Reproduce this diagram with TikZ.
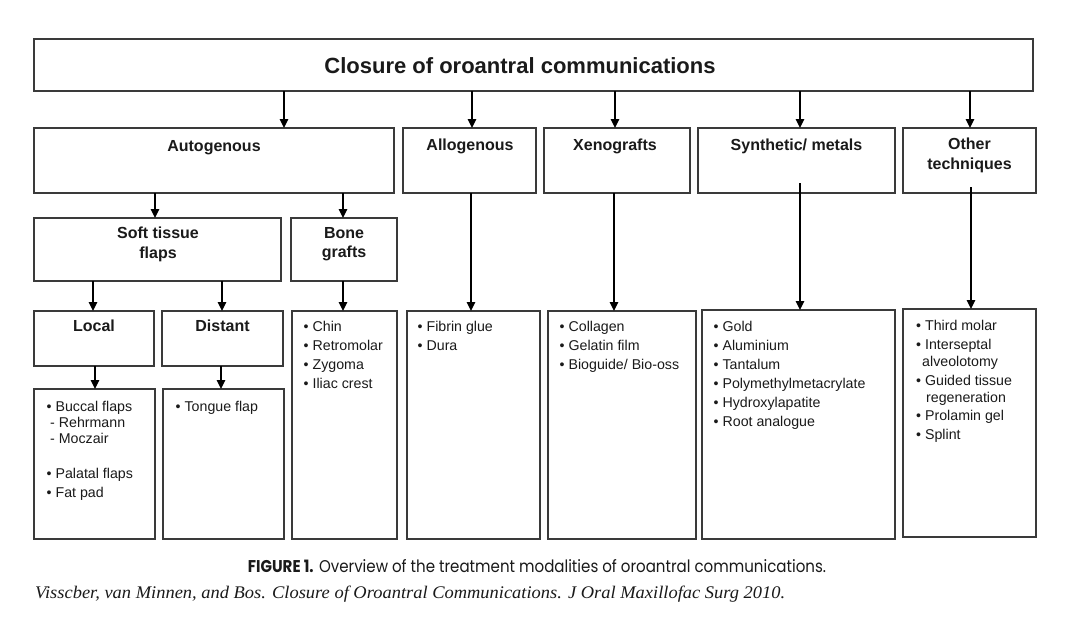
\documentclass[tikz,border=0pt]{standalone}
\usepackage{graphicx}
\usepackage{fontspec}
\setmainfont{Liberation Sans}
\newfontfamily\capfont{Poppins}
\newfontfamily\citefont{Liberation Serif}
\usetikzlibrary{arrows.meta,calc}
\definecolor{boxgray}{HTML}{3A3A3A}
\definecolor{ink}{HTML}{1A1A1A}
\begin{document}
\begin{tikzpicture}[x=1pt,y=-1pt,
  box/.style={draw=boxgray, line width=1.3pt, anchor=north west, inner sep=0pt, outer sep=0pt},
  lbl/.style={font=\fontsize{16}{19.5}\selectfont\bfseries, text=ink, align=center, anchor=north, inner sep=0pt},
  ttl/.style={font=\fontsize{22}{26}\selectfont\bfseries, text=ink, anchor=north, inner sep=0pt},
  lst/.style={font=\fontsize{14.2}{19}\selectfont, text=ink, align=left, anchor=north west, inner sep=0pt},
  arr/.style={draw=black, line width=1.3pt, -{Triangle[length=9pt,width=8.5pt]}}]
\useasboundingbox[fill=white] (0,0) rectangle (1073,629);

% boxes
\node[box, minimum width=999pt, minimum height=52pt] (top) at (34,39) {};
\node[box, minimum width=360pt, minimum height=65pt] (auto) at (34,128) {};
\node[box, minimum width=133pt, minimum height=65pt] (allo) at (403,128) {};
\node[box, minimum width=146pt, minimum height=65pt] (xeno) at (544,128) {};
\node[box, minimum width=197pt, minimum height=65pt] (synth) at (698,128) {};
\node[box, minimum width=133pt, minimum height=65pt] (other) at (903,128) {};
\node[box, minimum width=247pt, minimum height=63pt] (soft) at (34,218) {};
\node[box, minimum width=106pt, minimum height=63pt] (bone) at (291,218) {};
\node[box, minimum width=120pt, minimum height=55pt] (local) at (34,311) {};
\node[box, minimum width=121pt, minimum height=55pt] (dist) at (162,311) {};
\node[box, minimum width=121pt, minimum height=150pt] (locl) at (34,389) {};
\node[box, minimum width=121pt, minimum height=150pt] (distl) at (163,389) {};
\node[box, minimum width=105pt, minimum height=228pt] (bonel) at (292,311) {};
\node[box, minimum width=133pt, minimum height=228pt] (allol) at (407,311) {};
\node[box, minimum width=148pt, minimum height=228pt] (xenol) at (548,311) {};
\node[box, minimum width=193pt, minimum height=229pt] (synl) at (702,310) {};
\node[box, minimum width=133pt, minimum height=228pt] (othl) at (903,309) {};

% labels
\node[ttl] (ttop) at ($(top.north)+(-13.5,18)$) {Closure of oroantral communications};
\node[lbl] (tauto) at ($(auto.north)+(0,12)$) {Autogenous};
\node[lbl] (tallo) at ($(allo.north)+(0.5,11)$) {Allogenous};
\node[lbl] (txeno) at ($(xeno.north)+(-2,11)$) {Xenografts};
\node[lbl] (tsynth) at ($(synth.north)+(0,11)$) {Synthetic/ metals};
\node[lbl] (tother) at ($(other.north)+(0,10)$) {Other\\techniques};
\node[lbl] (tsoft) at ($(soft.north)+(0.5,9)$) {Soft tissue\\flaps};
\node[lbl] (tbone) at ($(bone.north)+(0,9)$) {Bone\\grafts};
\node[lbl] (tlocal) at ($(local.north)+(0,9)$) {Local};
\node[lbl] (tdist) at ($(dist.north)+(0,9)$) {Distant};

% lists
\node[lst] (llocl) at ($(locl.north west)+(12.5,12.5)$)
  {• Buccal flaps\\[-3pt]\hspace*{3.5pt}- Rehrmann\\[-3pt]\hspace*{3.5pt}- Moczair\\[16pt]• Palatal flaps\\• Fat pad};
\node[lst] (ldistl) at ($(distl.north west)+(12.5,12.5)$) {• Tongue flap};
\node[lst] (lbonel) at ($(bonel.north west)+(11.5,10.5)$) {• Chin\\• Retromolar\\• Zygoma\\• Iliac crest};
\node[lst] (lallol) at ($(allol.north west)+(10.5,10.5)$) {• Fibrin glue\\• Dura};
\node[lst] (lxenol) at ($(xenol.north west)+(11.5,10.5)$) {• Collagen\\• Gelatin film\\• Bioguide/ Bio-oss};
\node[lst] (lsynl) at ($(synl.north west)+(11.5,11.5)$)
  {• Gold\\• Aluminium\\• Tantalum\\• Polymethylmetacrylate\\• Hydroxylapatite\\• Root analogue};
\node[lst] (lothl) at ($(othl.north west)+(13,11.5)$)
  {• Third molar\\• Interseptal\\[-2pt]\hspace*{6pt}alveolotomy\\• Guided tissue\\[-2pt]\hspace*{10pt}regeneration\\[-1pt]• Prolamin gel\\• Splint};

% arrows
\draw[arr] (top.south -| 284,0) -- (auto.north -| 284,0);
\draw[arr] (top.south -| 472,0) -- (allo.north -| 472,0);
\draw[arr] (top.south -| 615,0) -- (xeno.north -| 615,0);
\draw[arr] (top.south -| 800,0) -- (synth.north -| 800,0);
\draw[arr] (top.south -| 970,0) -- (other.north -| 970,0);
\draw[arr] (auto.south -| 155,0) -- (soft.north -| 155,0);
\draw[arr] (auto.south -| 343,0) -- (bone.north -| 343,0);
\draw[arr] (soft.south -| 93,0) -- (local.north -| 93,0);
\draw[arr] (soft.south -| 222,0) -- (dist.north -| 222,0);
\draw[arr] (local.south -| 95,0) -- (locl.north -| 95,0);
\draw[arr] (dist.south -| 221,0) -- (distl.north -| 221,0);
\draw[arr] (bone.south -| 343,0) -- (bonel.north -| 343,0);
\draw[arr] (allo.south -| 471,0) -- (allol.north -| 471,0);
\draw[arr] (xeno.south -| 614,0) -- (xenol.north -| 614,0);
\draw[arr] ($(synth.south -| 800,0)+(0,-10)$) -- (synl.north -| 800,0);
\draw[arr] ($(other.south -| 971,0)+(0,-6)$) -- (othl.north -| 971,0);

% caption
\node[anchor=base, inner sep=0pt, text=ink] (cap) at (537,572)
  {\resizebox{578pt}{13pt}{\capfont\textbf{FIGURE 1.} Overview of the treatment modalities of oroantral communications.}};
\node[anchor=base west, inner sep=0pt, text=ink] (cite) at (35,598)
  {\resizebox{750pt}{12.5pt}{\citefont\itshape Visscber, van Minnen, and Bos. Closure of Oroantral Communications. J Oral Maxillofac Surg 2010.}};
\end{tikzpicture}
\end{document}
